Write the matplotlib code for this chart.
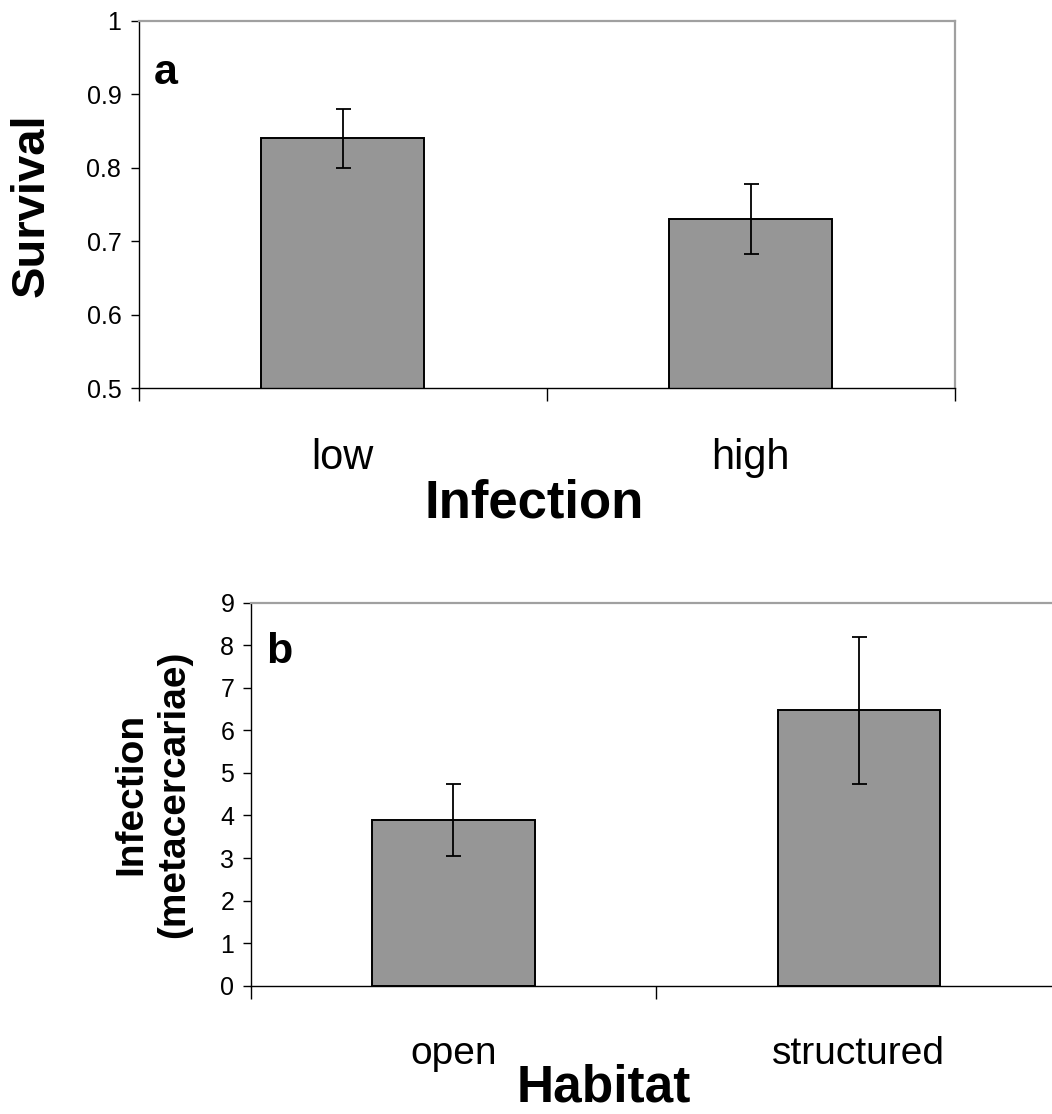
import numpy as np
import matplotlib
matplotlib.use("Agg")
import matplotlib.pyplot as plt
from matplotlib.ticker import FixedLocator

plt.rcParams['font.family'] = ['Liberation Sans', 'DejaVu Sans']

# panel a: survival by infection level
infection_levels = ["low", "high"]
survival = [0.84, 0.73]
survival_err = [0.040, 0.048]
survival_ticks = [0.5, 0.6, 0.7, 0.8, 0.9, 1.0]
survival_ticklabels = ["0.5", "0.6", "0.7", "0.8", "0.9", "1"]

# panel b: metacercariae by habitat
habitats = ["open", "structured"]
metacercariae = [3.89, 6.47]
metacercariae_err = [0.85, 1.73]
infection_ticks = list(range(0, 10))
infection_ticklabels = [str(v) for v in infection_ticks]

W, H = 1052, 1114
BAR_GREY = "#969696"
FRAME_GREY = "#a0a0a0"
DPI = 100
PX = 72.0 / DPI  # points per pixel


def px_rect(left, top, right, bottom):
    return [left / W, (H - bottom) / H, (right - left) / W, (bottom - top) / H]


def style_panel(ax, cats, vals, errs, yticks, yticklabels, ylim, ytick_pad, xlab_size):
    x = np.arange(len(cats)) + 0.5
    ax.bar(x, vals, width=0.4, color=BAR_GREY, edgecolor="black", linewidth=1.4, zorder=2)
    ax.errorbar(x, vals, yerr=errs, fmt="none", ecolor="black", elinewidth=1.3,
                capsize=5.4, capthick=1.3, zorder=3)
    ax.set_xlim(0, len(cats))
    ax.set_ylim(*ylim)

    ax.set_yticks(yticks)
    ax.set_yticklabels(yticklabels)
    ax.tick_params(axis="y", direction="out", length=8 * PX, width=1.0,
                   labelsize=18, pad=ytick_pad)

    # category labels centred, boundary ticks between categories
    ax.set_xticks(x)
    ax.set_xticklabels(cats)
    ax.xaxis.set_minor_locator(FixedLocator(np.arange(len(cats) + 1)))
    ax.tick_params(axis="x", which="major", length=0, labelsize=xlab_size, pad=36)
    ax.tick_params(axis="x", which="minor", direction="out", length=13 * PX, width=1.0)

    for side in ("top", "right"):
        ax.spines[side].set_color(FRAME_GREY)
        ax.spines[side].set_linewidth(1.6)
    for side in ("left", "bottom"):
        ax.spines[side].set_color("black")
        ax.spines[side].set_linewidth(1.0)


fig = plt.figure(figsize=(W / DPI, H / DPI), dpi=DPI)

ax_a = fig.add_axes(px_rect(139, 20.7, 954.5, 388.3))
style_panel(ax_a, infection_levels, survival, survival_err,
            survival_ticks, survival_ticklabels, (0.5, 1.0), 7, 30)
fig.text(534 / W, 1 - 518 / H, "Infection", fontsize=38, fontweight="bold",
         ha="center", va="baseline")
fig.text(32 / W, 1 - 205 / H, "Survival", rotation=90, fontsize=34,
         fontweight="bold", ha="center", va="center")
fig.text(166 / W, 1 - 84 / H, "a", fontsize=31, fontweight="bold",
         ha="center", va="baseline")

ax_b = fig.add_axes(px_rect(250.7, 602.7, 1061.6, 985.7))
style_panel(ax_b, habitats, metacercariae, metacercariae_err,
            infection_ticks, infection_ticklabels, (0, 9), 6, 28)
fig.text(604 / W, 1 - 1101 / H, "Habitat", fontsize=37, fontweight="bold",
         ha="center", va="baseline")
fig.text(153 / W, 1 - 794 / H, "Infection\n(metacercariae)", rotation=90,
         fontsize=28, fontweight="bold", ha="center", va="center",
         multialignment="center", linespacing=1.25)
fig.text(279 / W, 1 - 663 / H, "b", fontsize=31, fontweight="bold",
         ha="center", va="baseline")

fig.savefig("out.png", dpi=DPI)
